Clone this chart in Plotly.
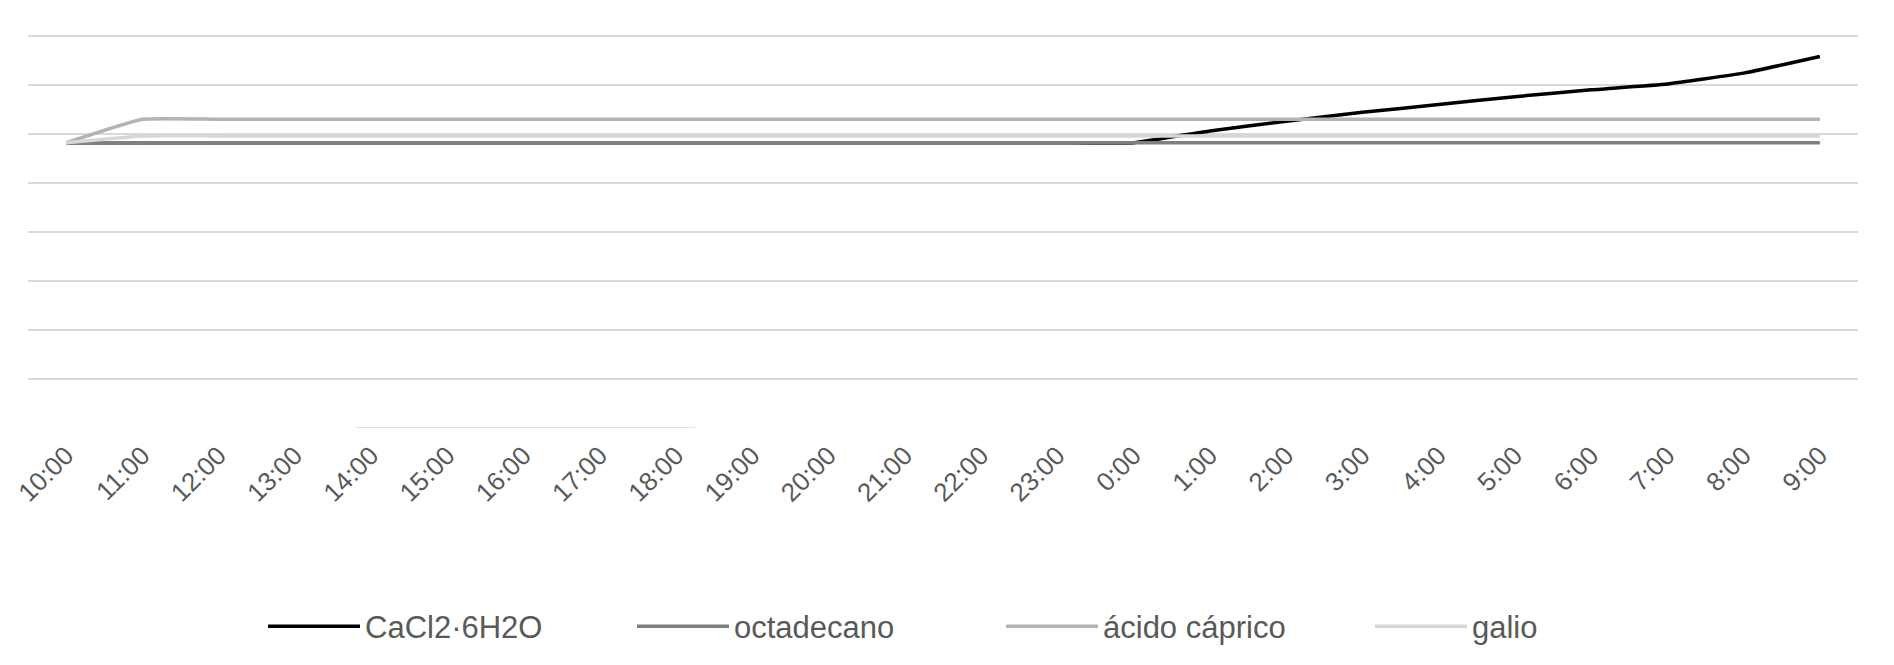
import plotly.graph_objects as go

# Hourly readings, 10:00 on day one through 9:00 the next morning
horas = ["10:00", "11:00", "12:00", "13:00", "14:00", "15:00", "16:00", "17:00",
         "18:00", "19:00", "20:00", "21:00", "22:00", "23:00", "0:00", "1:00",
         "2:00", "3:00", "4:00", "5:00", "6:00", "7:00", "8:00", "9:00"]

cacl2 = [29.1, 29.1, 29.1, 29.1, 29.1, 29.1, 29.1, 29.1, 29.1, 29.1, 29.1, 29.1,
         29.1, 29.1, 29.1, 30.3, 31.3, 32.2, 33.0, 33.8, 34.5, 35.1, 36.2, 37.9]
octadecano = [29.1] * 24
acido_caprico = [29.1] + [31.5] * 23
galio = [29.1] + [29.8] * 23

series = [
    ("CaCl2·6H2O", cacl2, "#000000"),
    ("octadecano", octadecano, "#7f7f7f"),
    ("ácido cáprico", acido_caprico, "#b3b3b3"),
    ("galio", galio, "#d6d6d6"),
]

W, H = 1894, 665
L, R, T, B = 28, 36, 31, 237
Y_TOP = 40.5

fig = go.Figure()
for nombre, valores, color in series:
    fig.add_trace(go.Scatter(
        x=horas, y=valores, name=nombre, mode="lines",
        line=dict(color=color, width=3.5, shape="spline", smoothing=0.35),
    ))

fig.update_layout(
    width=W, height=H,
    margin=dict(l=L, r=R, t=T, b=B),
    paper_bgcolor="white", plot_bgcolor="white",
    font=dict(family="Liberation Sans, Arial, sans-serif", color="#595959"),
    showlegend=True,
    legend=dict(
        orientation="h", x=(263 - L) / (W - L - R), xanchor="left",
        y=-0.50, yanchor="middle",
        font=dict(size=31, color="#595959"), itemwidth=92,
        entrywidth=262, entrywidthmode="pixels",
        bgcolor="rgba(0,0,0,0)",
    ),
)
fig.update_xaxes(
    type="category", range=[-0.5, 23.5], tickangle=-45,
    showgrid=False, showline=False, zeroline=False, ticks="",
    tickfont=dict(size=26, color="#595959"), ticklabelstandoff=6,
)
fig.update_yaxes(
    range=[0, Y_TOP], tickvals=[5, 10, 15, 20, 25, 30, 35, 40],
    showticklabels=False, showgrid=True, gridcolor="#d9d9d9", gridwidth=1.5,
    zeroline=False, showline=False, ticks="",
)
# remaining fragment of the baseline
fig.add_shape(type="line", xref="paper", yref="y", x0=0.179, x1=0.3645, y0=0, y1=0,
              line=dict(color="#d9d9d9", width=1.5), layer="below")

fig.write_html("out.html")
